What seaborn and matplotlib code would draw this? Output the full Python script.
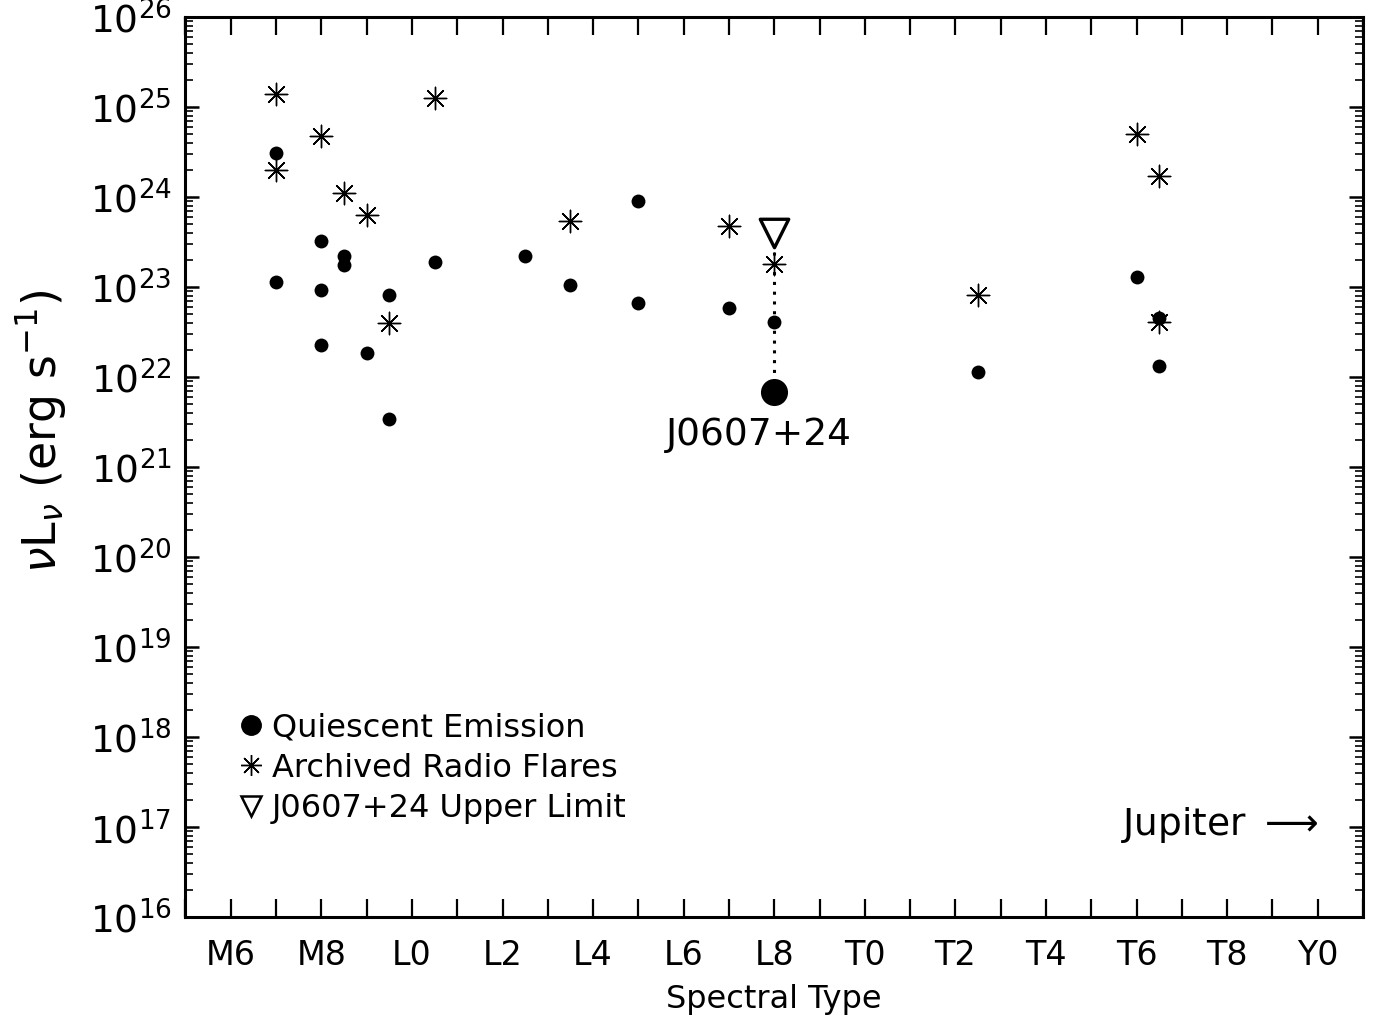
import pandas as pd
import seaborn as sns
import matplotlib.pyplot as plt
from matplotlib.lines import Line2D
from matplotlib.ticker import FixedLocator, NullFormatter, MultipleLocator

# spectral type index: M0 = 0, L0 = 10, T0 = 20, Y0 = 30
quiet_spt = [7, 7, 8, 8, 8, 8.5, 8.5, 9, 9.5, 9.5, 10.5, 12.5, 13.5, 15, 15,
             17, 18, 22.5, 26, 26.5, 26.5]
quiet_lum = [3.1e24, 1.15e23, 3.3e23, 9.3e22, 2.3e22, 2.2e23, 1.75e23, 1.85e22,
             8.1e22, 3.4e21, 1.9e23, 2.25e23, 1.05e23, 9.1e23, 6.6e22,
             5.9e22, 4.15e22, 1.15e22, 1.3e23, 4.5e22, 1.35e22]

flare_spt = [7, 7, 8, 8.5, 9, 9.5, 10.5, 13.5, 17, 18, 22.5, 26, 26.5, 26.5]
flare_lum = [1.42e25, 2.0e24, 4.8e24, 1.12e24, 6.4e23, 4.05e22, 1.28e25,
             5.5e23, 4.8e23, 1.8e23, 8.1e22, 5.05e24, 1.73e24, 4.15e22]

j0607_spt = 18
j0607_lum = 6.9e21
j0607_limit = 4.0e23

tick_pos = [6, 8, 10, 12, 14, 16, 18, 20, 22, 24, 26, 28, 30]
tick_labels = ['M6', 'M8', 'L0', 'L2', 'L4', 'L6', 'L8',
               'T0', 'T2', 'T4', 'T6', 'T8', 'Y0']
y_exponents = list(range(16, 27))

quiet = pd.DataFrame({'spt': quiet_spt, 'lum': quiet_lum})
flare = pd.DataFrame({'spt': flare_spt, 'lum': flare_lum})

sns.set_style('ticks')
plt.rcParams['font.family'] = ['DejaVu Sans']
plt.rcParams['mathtext.fontset'] = 'dejavusans'
plt.rcParams['text.color'] = 'k'
plt.rcParams['axes.labelcolor'] = 'k'

fig = plt.figure(figsize=(13.76, 10.21), dpi=100)
ax = fig.add_axes([0.1348, 0.1016, 0.8558, 0.8815])

asterisk = (8, 2, 0)

# dotted link between the detection and the upper limit
ax.plot([j0607_spt, j0607_spt], [j0607_lum, j0607_limit], color='k',
        linestyle=(0, (1, 2.2)), linewidth=2.2, zorder=1)

sns.scatterplot(data=quiet, x='spt', y='lum', ax=ax, color='k', marker='o',
                s=100, linewidth=0, zorder=3)
sns.scatterplot(data=flare, x='spt', y='lum', ax=ax, color='k', marker=asterisk,
                s=260, linewidth=1.0, zorder=3)
sns.scatterplot(x=[j0607_spt], y=[j0607_lum], ax=ax, color='k', marker='o',
                s=380, linewidth=0, zorder=4)
sns.scatterplot(x=[j0607_spt], y=[j0607_limit], ax=ax, marker='v', s=420,
                facecolor='white', edgecolor='k', linewidth=2.4, zorder=4)

ax.set_yscale('log')
ax.set_xlim(5, 31)
ax.set_ylim(10.0 ** y_exponents[0], 10.0 ** y_exponents[-1])

ax.set_xticks(tick_pos)
ax.set_xticklabels(tick_labels)
ax.xaxis.set_minor_locator(MultipleLocator(1))
ax.set_yticks([10.0 ** e for e in y_exponents])
ax.set_yticklabels([r'$10^{%d}$' % e for e in y_exponents])
minor_y = [m * 10.0 ** e for e in y_exponents[:-1] for m in range(2, 10)]
ax.yaxis.set_minor_locator(FixedLocator(minor_y))
ax.yaxis.set_minor_formatter(NullFormatter())

for side in ['left', 'right', 'top', 'bottom']:
    ax.spines[side].set_linewidth(2.2)
    ax.spines[side].set_color('k')

ax.tick_params(axis='x', which='both', direction='in', top=True, bottom=True,
               length=13, width=1.6, labelsize=24, pad=16, colors='k')
ax.tick_params(axis='y', which='major', direction='in', left=True, right=True,
               length=10, width=1.8, labelsize=27, pad=10, colors='k')
ax.tick_params(axis='y', which='minor', direction='in', left=True, right=True,
               length=5.5, width=1.4)

ax.set_xlabel('Spectral Type', fontsize=23, labelpad=8)
ax.set_ylabel('')
fig.text(0.03, 0.577, r'$\nu$L$_\nu$ (erg s$^{-1}$)', rotation=90,
         fontsize=33, ha='center', va='center')

ax.text(j0607_spt - 0.35, 2.3e21, 'J0607+24', fontsize=27, ha='center',
        va='center')
ax.text(30, 1.05e17, r'Jupiter $\longrightarrow$', fontsize=27, ha='right',
        va='center')

handles = [
    Line2D([], [], color='k', marker='o', linestyle='none', markersize=14),
    Line2D([], [], color='k', marker=asterisk, linestyle='none',
           markersize=15, markeredgewidth=1.0),
    Line2D([], [], color='k', marker='v', markerfacecolor='white',
           linestyle='none', markersize=14, markeredgewidth=1.8),
]
ax.legend(handles, ['Quiescent Emission', 'Archived Radio Flares',
                    'J0607+24 Upper Limit'],
          loc='upper left', bbox_to_anchor=(0.045, 0.228), frameon=False,
          fontsize=23, handlelength=0.8, handletextpad=0.25, labelspacing=0.3,
          borderpad=0, borderaxespad=0)

fig.savefig('out.png', dpi=100, facecolor='white')
